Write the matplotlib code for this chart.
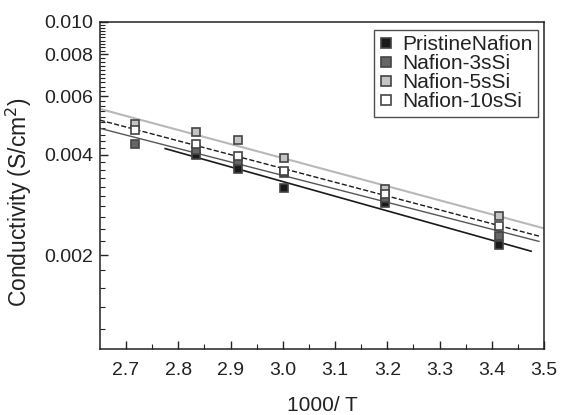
import numpy as np
import matplotlib
matplotlib.use("Agg")
import matplotlib.pyplot as plt
from matplotlib.ticker import FixedLocator, NullFormatter

plt.rcParams['font.family'] = ['Liberation Sans', 'DejaVu Sans']

# 1000/T for 95, 80, 70, 60, 40, 20 C
x_all = [2.717, 2.833, 2.915, 3.003, 3.195, 3.413]
x_pristine = [2.833, 2.915, 3.003, 3.195, 3.413]

pristine = [0.00399, 0.00362, 0.00317, 0.00287, 0.00215]
nafion_3s = [0.00430, 0.00413, 0.00383, 0.00352, 0.00296, 0.00229]
nafion_5s = [0.00494, 0.00467, 0.00444, 0.00392, 0.00315, 0.00262]
nafion_10s = [0.00474, 0.00432, 0.00396, 0.00357, 0.00305, 0.00245]

labels = ['PristineNafion', 'Nafion-3sSi', 'Nafion-5sSi', 'Nafion-10sSi']
yticks = [0.002, 0.004, 0.006, 0.008, 0.010]

fig = plt.figure(figsize=(5.61, 4.15), dpi=100)
ax = fig.add_axes([0.178, 0.16, 0.792, 0.787])

series = [
    (x_pristine, pristine, '#1a1a1a', '#1a1a1a', '-', 1.2, (2.775, 3.475)),
    (x_all, nafion_3s, '#666666', '#555555', '-', 1.0, (2.65, 3.49)),
    (x_all, nafion_5s, '#c4c4c4', '#b8b8b8', '-', 1.5, (2.65, 3.5)),
    (x_all, nafion_10s, 'white', '#1a1a1a', '--', 1.0, (2.65, 3.49)),
]

# linear fits of log10(conductivity) vs 1000/T
for xs, ys, fc, lc, ls, lw, (x0, x1) in series:
    k, b = np.polyfit(xs, np.log10(ys), 1)
    xf = np.array([x0, x1])
    ax.plot(xf, 10 ** (k * xf + b), color=lc, ls=ls, lw=lw, zorder=2)

for (xs, ys, fc, lc, ls, lw, _), lab in zip(series, labels):
    ax.plot(xs, ys, ls='none', marker='s', ms=6, mfc=fc, mec='#444444',
            mew=1.2, label=lab, zorder=3)

ax.set_yscale('log')
ax.set_xlim(2.65, 3.5)
ax.set_ylim(0.00105, 0.010)
ax.yaxis.set_major_locator(FixedLocator(yticks))
ax.set_yticklabels(['0.002', '0.004', '0.006', '0.008', '0.010'])
ax.yaxis.set_minor_locator(FixedLocator(np.arange(0.0012, 0.0100, 0.0002)))
ax.yaxis.set_minor_formatter(NullFormatter())
ax.set_xticks(np.arange(2.7, 3.51, 0.1))
ax.set_xticklabels(['2.7', '2.8', '2.9', '3.0', '3.1', '3.2', '3.3', '3.4', '3.5'])
ax.set_xticks(np.arange(2.75, 3.5, 0.1), minor=True)

ax.tick_params(which='both', direction='in', colors='#222222', labelsize=14,
               top=False, right=False)
ax.tick_params(which='major', length=6, width=1, pad=5)
ax.tick_params(axis='x', which='major', pad=10)
ax.tick_params(which='minor', length=3.5, width=0.8)
for sp in ax.spines.values():
    sp.set_color('#222222')
    sp.set_linewidth(1.1)

ax.set_xlabel('1000/ T', fontsize=15, color='#222222', labelpad=12)
ax.set_ylabel('Conductivity (S/cm$^2$)', fontsize=16.5, color='#222222')
ax.yaxis.set_label_coords(-0.148, 0.45)

leg = ax.legend(loc='upper right', bbox_to_anchor=(0.985, 0.975), fontsize=15,
                frameon=True, fancybox=False, borderaxespad=0,
                handlelength=0.7, handletextpad=0.4, labelspacing=0.0,
                borderpad=0.25, markerscale=1.1)
leg.get_frame().set_edgecolor('#222222')
leg.get_frame().set_linewidth(1.0)
for t in leg.get_texts():
    t.set_color('#222222')

fig.savefig('out.png', dpi=100)
